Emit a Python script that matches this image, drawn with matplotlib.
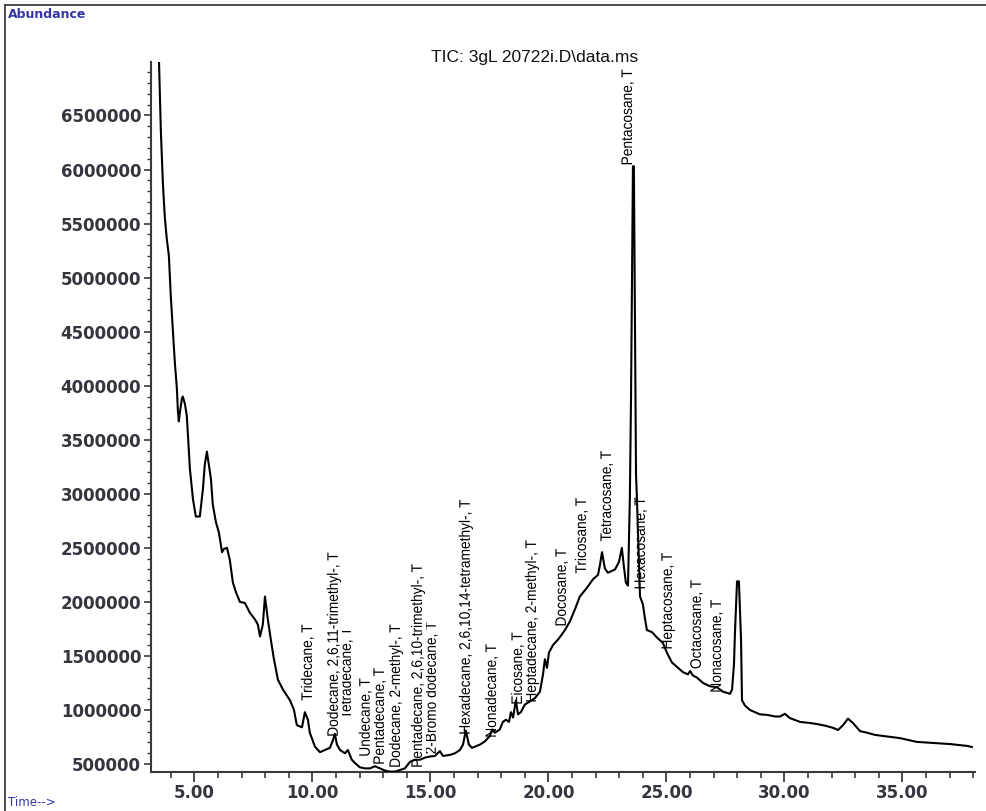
import matplotlib
matplotlib.use('Agg')
import matplotlib.pyplot as plt
from matplotlib.ticker import MultipleLocator, FormatStrFormatter
from matplotlib.lines import Line2D
from matplotlib.textpath import TextPath
from matplotlib.font_manager import FontProperties
from matplotlib.patches import PathPatch, Rectangle
from matplotlib.transforms import Affine2D, ScaledTranslation

# cromatograma TIC (tempo em min, abundancia)
tempo = [3.41, 3.50, 3.58, 3.67, 3.75, 3.83, 3.92, 4.00, 4.09, 4.17, 4.26, 4.30, 4.34, 4.39, 4.47, 4.51,
         4.60, 4.68, 4.81, 4.94, 5.06, 5.23, 5.36, 5.44, 5.53, 5.61, 5.70, 5.78, 5.91, 6.04, 6.17, 6.25,
         6.38, 6.50, 6.63, 6.76, 6.93, 7.14, 7.35, 7.56, 7.69, 7.78, 7.90, 7.99, 8.11, 8.24, 8.37, 8.54,
         8.75, 9.05, 9.22, 9.34, 9.56, 9.68, 9.81, 9.89, 10.11, 10.32, 10.53, 10.74, 10.87, 10.95, 11.04,
         11.17, 11.38, 11.50, 11.67, 11.80, 12.01, 12.22, 12.44, 12.65, 12.86, 13.07, 13.28, 13.50, 13.71,
         13.92, 14.13, 14.34, 14.56, 14.77, 14.98, 15.19, 15.40, 15.53, 15.83, 16.04, 16.25, 16.38, 16.50,
         16.63, 16.76, 17.10, 17.31, 17.52, 17.61, 17.73, 17.94, 18.07, 18.20, 18.33, 18.41, 18.50, 18.62,
         18.71, 18.83, 19.00, 19.22, 19.43, 19.64, 19.77, 19.85, 19.94, 20.02, 20.19, 20.40, 20.57, 20.70,
         20.91, 21.12, 21.33, 21.63, 21.89, 22.10, 22.18, 22.27, 22.39, 22.52, 22.82, 22.99, 23.11, 23.20,
         23.28, 23.37, 23.45, 23.50, 23.58, 23.62, 23.71, 23.75, 23.88, 24.00, 24.08, 24.17, 24.39, 24.60,
         24.85, 25.02, 25.23, 25.49, 25.70, 25.91, 26.00, 26.12, 26.29, 26.55, 26.84, 27.14, 27.39, 27.69,
         27.78, 27.86, 27.90, 27.99, 28.07, 28.16, 28.20, 28.33, 28.54, 28.96, 29.26, 29.60, 29.81, 30.02,
         30.23, 30.66, 31.08, 31.38, 31.72, 32.06, 32.27, 32.48, 32.69, 32.90, 33.20, 33.50, 33.83, 34.17,
         34.89, 35.61, 36.29, 37.01, 37.73, 37.94]
abundancia = [7310000, 7010000, 6350000, 5850000, 5550000, 5360000, 5200000, 4830000, 4500000, 4220000,
              3970000, 3770000, 3670000, 3760000, 3880000, 3900000, 3830000, 3720000, 3230000, 2950000,
              2790000, 2790000, 3040000, 3270000, 3390000, 3270000, 3140000, 2900000, 2740000, 2640000,
              2460000, 2490000, 2500000, 2390000, 2180000, 2090000, 2000000, 1990000, 1900000, 1840000,
              1790000, 1680000, 1790000, 2050000, 1840000, 1650000, 1470000, 1280000, 1190000, 1090000,
              1000000, 860000, 840000, 980000, 910000, 790000, 660000, 610000, 630000, 650000, 720000,
              780000, 680000, 630000, 600000, 630000, 540000, 510000, 470000, 460000, 460000, 480000,
              460000, 440000, 430000, 430000, 445000, 460000, 520000, 540000, 540000, 560000, 570000,
              575000, 620000, 575000, 585000, 600000, 630000, 680000, 810000, 680000, 650000, 680000,
              710000, 760000, 820000, 790000, 820000, 890000, 910000, 890000, 980000, 930000, 1090000,
              960000, 980000, 1050000, 1080000, 1110000, 1170000, 1330000, 1470000, 1390000, 1530000,
              1600000, 1650000, 1700000, 1740000, 1820000, 1930000, 2050000, 2130000, 2210000, 2250000,
              2340000, 2460000, 2310000, 2270000, 2300000, 2370000, 2500000, 2320000, 2180000, 2150000,
              2970000, 3920000, 6030000, 6030000, 3180000, 2950000, 2050000, 1980000, 1860000, 1740000,
              1720000, 1670000, 1620000, 1530000, 1440000, 1390000, 1350000, 1330000, 1360000, 1320000,
              1300000, 1250000, 1220000, 1210000, 1170000, 1150000, 1190000, 1420000, 1700000, 2190000,
              2190000, 1650000, 1090000, 1040000, 1000000, 960000, 955000, 940000, 940000, 965000,
              925000, 890000, 880000, 870000, 855000, 835000, 815000, 860000, 920000, 880000, 805000,
              790000, 770000, 760000, 740000, 705000, 695000, 685000, 668000, 658000]

# picos identificados
nomes = ["Tridecane, T", "Dodecane, 2,6,11-trimethyl-, T", "Tetradecane, T", "Undecane, T",
         "Pentadecane, T", "Dodecane, 2-methyl-, T", "Pentadecane, 2,6,10-trimethyl-, T",
         "2-Bromo dodecane, T", "Hexadecane, 2,6,10,14-tetramethyl-, T", "Nonadecane, T",
         "Eicosane, T", "Heptadecane, 2-methyl-, T", "Docosane, T", "Tricosane, T",
         "Tetracosane, T", "Pentacosane, T", "Hexacosane, T", "Heptacosane, T",
         "Octacosane, T", "Nonacosane, T"]
tempo_nome = [9.81, 10.91, 11.46, 12.26, 12.86, 13.54, 14.47, 15.06, 16.50, 17.61,
              18.71, 19.30, 20.57, 21.42, 22.48, 23.37, 23.92, 25.06, 26.29, 27.14]
altura_nome = [1076000, 751000, 909000, 566000, 492000, 464000, 464000, 584000, 770000, 742000,
               1048000, 1067000, 1771000, 2254000, 2550000, 6037000, 2114000, 1558000, 1373000, 1159000]

fig = plt.figure(figsize=(9.86, 8.11), dpi=100)
ax = fig.add_axes([0.1531, 0.0481, 0.8357, 0.8755])
ax.plot(tempo, abundancia, color='black', lw=1.5, zorder=10)
ax.set_xlim(3.16, 38.07)
ax.set_ylim(426600, 6995000)

for s in ['top', 'right']:
    ax.spines[s].set_visible(False)
for s in ['left', 'bottom']:
    ax.spines[s].set_color('#3a3a3a')
    ax.spines[s].set_linewidth(1.5)

ax.xaxis.set_major_locator(MultipleLocator(5))
ax.xaxis.set_minor_locator(MultipleLocator(1))
ax.xaxis.set_major_formatter(FormatStrFormatter('%.2f'))
ax.yaxis.set_major_locator(MultipleLocator(500000))
ax.yaxis.set_minor_locator(MultipleLocator(100000))
ax.yaxis.set_major_formatter(FormatStrFormatter('%d'))
ax.tick_params(axis='x', which='major', length=7, width=1.3, color='#3a3a3a', pad=2)
ax.tick_params(axis='x', which='minor', length=4, width=1.2, color='#3a3a3a')
ax.tick_params(axis='y', which='major', length=5, width=1.2, color='#3a3a3a', pad=2)
ax.tick_params(axis='y', which='minor', length=3, width=1.0, color='#3a3a3a')
for lab in ax.get_xticklabels() + ax.get_yticklabels():
    lab.set_fontfamily('DejaVu Sans')
    lab.set_fontweight('bold')
    lab.set_fontsize(12)
    lab.set_color('#353540')

# rotulos dos picos: fonte estreita (Liberation Sans comprimida), caixa branca
fonte = FontProperties(family='Liberation Sans')
tam = 11
n = len(nomes)
for i in range(n):
    caminho = TextPath((0, 0), nomes[i], size=tam, prop=fonte)
    ext = caminho.get_extents()
    tr = (Affine2D().translate(-ext.x0 + 1.0, -0.26 * tam).scale(0.9, 1.0)
          .rotate_deg(90).scale(fig.dpi / 72.0)
          + ScaledTranslation(tempo_nome[i], altura_nome[i], ax.transData))
    z = 3 + (n - i) * 0.1
    ax.add_patch(Rectangle((ext.x0 - 1.0, -0.25 * tam), ext.width + 2.0, 1.03 * tam, transform=tr,
                           facecolor='white', edgecolor='none', zorder=z, clip_on=False))
    ax.add_patch(PathPatch(caminho, transform=tr, facecolor='black', edgecolor='none', lw=0,
                           zorder=z + 0.01, clip_on=False))

fig.text(0.5426, 0.9285, "TIC: 3gL 20722i.D\\data.ms", ha='center', va='center',
         fontsize=12.5, family='Liberation Sans', color='#111111')
fig.text(0.0081, 0.9827, "Abundance", ha='left', va='center', fontsize=9,
         fontweight='bold', color='#3636a8')
fig.text(0.0081, 0.0099, "Time-->", ha='left', va='center', fontsize=8.5,
         color='#3636a8')

# moldura da janela
fig.add_artist(Line2D([0.0051, 1.0], [0.9938, 0.9938], transform=fig.transFigure, color='#404040', lw=1.3))
fig.add_artist(Line2D([0.0051, 0.0051], [0.0, 0.9938], transform=fig.transFigure, color='#404040', lw=1.3))

fig.savefig('out.png', dpi=100, facecolor='white')
